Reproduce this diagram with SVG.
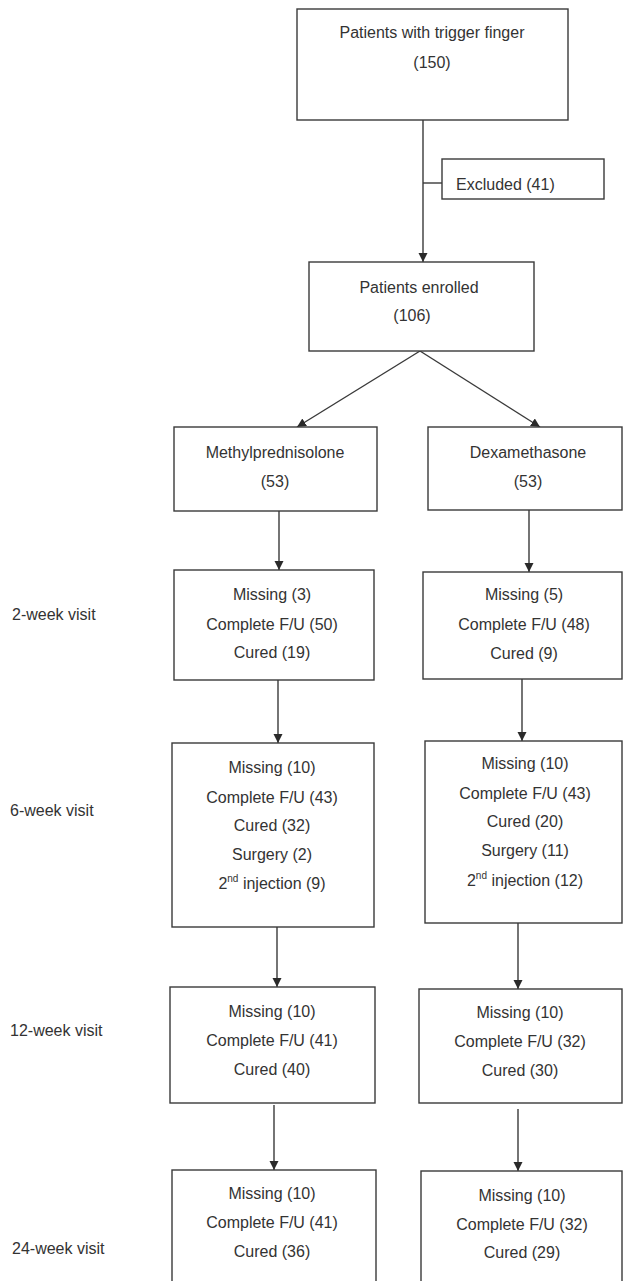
<svg xmlns="http://www.w3.org/2000/svg" width="624" height="1281" viewBox="0 0 624 1281">
<style>
.box{fill:#fff;stroke:#3a3a3a;stroke-width:1.4}
.ln{fill:none;stroke:#3a3a3a;stroke-width:1.4}
text{font-family:"Liberation Sans",Arial,sans-serif;font-size:16px;fill:#333}
.c{text-anchor:middle}
</style>
<defs>
<marker id="ah" markerUnits="userSpaceOnUse" markerWidth="10" markerHeight="10" refX="9" refY="4.5" orient="auto">
<path d="M0,0 L9,4.5 L0,9 z" fill="#2a2a2a"/>
</marker>
</defs>
<rect width="624" height="1281" fill="#fff"/>
<g id="connectors">
<path class="ln" d="M423,120 V262" marker-end="url(#ah)"/>
<path class="ln" d="M423,183 H442"/>
<path class="ln" d="M420,351 L297,427" marker-end="url(#ah)"/>
<path class="ln" d="M420,351 L540,427" marker-end="url(#ah)"/>
<path class="ln" d="M279,511 V570" marker-end="url(#ah)"/>
<path class="ln" d="M529,510 V572" marker-end="url(#ah)"/>
<path class="ln" d="M278,680 V743" marker-end="url(#ah)"/>
<path class="ln" d="M522,679 V741" marker-end="url(#ah)"/>
<path class="ln" d="M277,927 V987" marker-end="url(#ah)"/>
<path class="ln" d="M518,923 V989" marker-end="url(#ah)"/>
<path class="ln" d="M274,1105 V1170" marker-end="url(#ah)"/>
<path class="ln" d="M518,1109 V1171" marker-end="url(#ah)"/>
</g>
<g id="n-trigger"><rect class="box" x="297" y="9" width="271" height="111"/>
<text class="c" x="432" y="38">Patients with trigger finger</text><text class="c" x="432" y="68">(150)</text></g>
<g id="n-excluded"><rect class="box" x="442" y="159" width="162" height="40"/>
<text x="456" y="190">Excluded (41)</text></g>
<g id="n-enrolled"><rect class="box" x="309" y="262" width="225" height="89"/>
<text class="c" x="419" y="293">Patients enrolled</text><text class="c" x="412" y="321">(106)</text></g>
<g id="n-methyl"><rect class="box" x="174" y="427" width="203" height="84"/>
<text class="c" x="275" y="458">Methylprednisolone</text><text class="c" x="275" y="487">(53)</text></g>
<g id="n-dexa"><rect class="box" x="428" y="427" width="194" height="83"/>
<text class="c" x="528" y="458">Dexamethasone</text><text class="c" x="528" y="487">(53)</text></g>
<g id="lbl-2w"><text x="12" y="620">2-week visit</text></g>
<g id="lbl-6w"><text x="10" y="816">6-week visit</text></g>
<g id="lbl-12w"><text x="10" y="1036">12-week visit</text></g>
<g id="lbl-24w"><text x="12" y="1254">24-week visit</text></g>
<g id="n-m2"><rect class="box" x="174" y="570" width="200" height="110"/>
<text class="c" x="272" y="600">Missing (3)</text><text class="c" x="272" y="630">Complete F/U (50)</text><text class="c" x="272" y="658">Cured (19)</text></g>
<g id="n-d2"><rect class="box" x="423" y="572" width="199" height="107"/>
<text class="c" x="524" y="600">Missing (5)</text><text class="c" x="524" y="630">Complete F/U (48)</text><text class="c" x="524" y="659">Cured (9)</text></g>
<g id="n-m6"><rect class="box" x="172" y="743" width="202" height="184"/>
<text class="c" x="272" y="773">Missing (10)</text><text class="c" x="272" y="803">Complete F/U (43)</text><text class="c" x="272" y="831">Cured (32)</text><text class="c" x="272" y="860">Surgery (2)</text>
<text class="c" x="272" y="889">2<tspan font-size="10" dy="-7">nd</tspan><tspan dy="7"> injection (9)</tspan></text></g>
<g id="n-d6"><rect class="box" x="425" y="741" width="197" height="182"/>
<text class="c" x="525" y="769">Missing (10)</text><text class="c" x="525" y="799">Complete F/U (43)</text><text class="c" x="525" y="827">Cured (20)</text><text class="c" x="525" y="856">Surgery (11)</text>
<text class="c" x="525" y="886">2<tspan font-size="10" dy="-7">nd</tspan><tspan dy="7"> injection (12)</tspan></text></g>
<g id="n-m12"><rect class="box" x="170" y="987" width="205" height="116"/>
<text class="c" x="272" y="1017">Missing (10)</text><text class="c" x="272" y="1046">Complete F/U (41)</text><text class="c" x="272" y="1075">Cured (40)</text></g>
<g id="n-d12"><rect class="box" x="419" y="989" width="203" height="114"/>
<text class="c" x="520" y="1018">Missing (10)</text><text class="c" x="520" y="1047">Complete F/U (32)</text><text class="c" x="520" y="1076">Cured (30)</text></g>
<g id="n-m24"><rect class="box" x="172" y="1170" width="204" height="130"/>
<text class="c" x="272" y="1199">Missing (10)</text><text class="c" x="272" y="1228">Complete F/U (41)</text><text class="c" x="272" y="1257">Cured (36)</text></g>
<g id="n-d24"><rect class="box" x="421" y="1171" width="201" height="130"/>
<text class="c" x="522" y="1201">Missing (10)</text><text class="c" x="522" y="1230">Complete F/U (32)</text><text class="c" x="522" y="1258">Cured (29)</text></g>
</svg>
